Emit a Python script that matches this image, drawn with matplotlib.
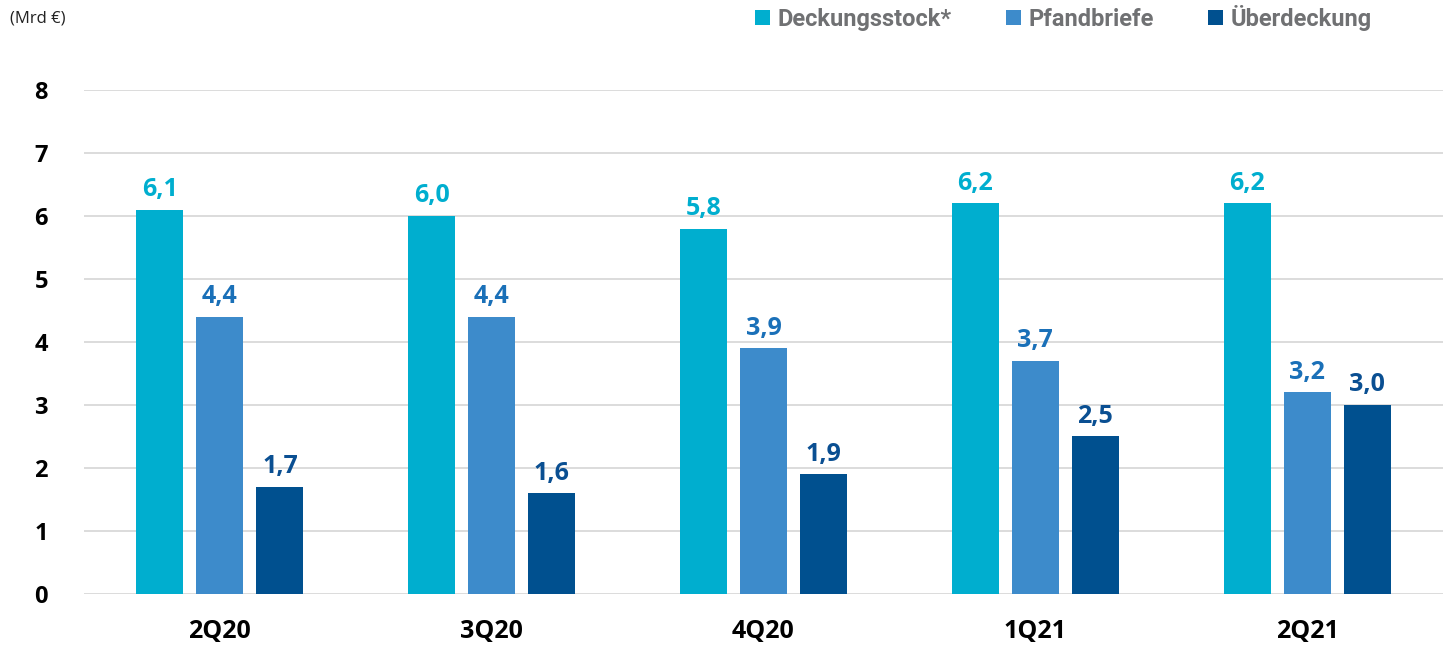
import numpy as np
import matplotlib
matplotlib.use('Agg')
import matplotlib.pyplot as plt
from matplotlib.patches import Patch

quarters = ['2Q20', '3Q20', '4Q20', '1Q21', '2Q21']
deckungsstock = [6.1, 6.0, 5.8, 6.2, 6.2]
pfandbriefe = [4.4, 4.4, 3.9, 3.7, 3.2]
ueberdeckung = [1.7, 1.6, 1.9, 2.5, 3.0]
series_names = ['Deckungsstock*', 'Pfandbriefe', 'Überdeckung']

bar_colors = ['#00AECF', '#3D8BCB', '#00508F']
label_colors = ['#00AECF', '#1A70B8', '#0A4F92']

plt.rcParams['font.family'] = ['Open Sans', 'DejaVu Sans']

fig = plt.figure(figsize=(14.43, 6.51), dpi=100)
ax = fig.add_axes([0.0582, 0.0876, 0.9418, 0.7742])

x = np.arange(len(quarters))
width = 0.173
offset = 0.221

for i, vals in enumerate([deckungsstock, pfandbriefe, ueberdeckung]):
  pos = x + (i - 1) * offset
  ax.bar(pos, vals, width, color=bar_colors[i], zorder=3)
  for px, v in zip(pos, vals):
    ax.text(px, v + 0.12, f'{v:.1f}'.replace('.', ','), ha='center', va='bottom',
            fontsize=18, fontweight='bold', color=label_colors[i])

ax.set_xlim(-0.5, 4.5)
ax.set_ylim(0, 8)
ax.set_yticks(range(0, 9))
ax.set_xticks(x)
ax.set_xticklabels(quarters)
ax.yaxis.grid(True, color='#D9D9D9', linewidth=1.3, zorder=0)
ax.set_axisbelow(True)
for s in ax.spines.values():
  s.set_visible(False)
ax.tick_params(axis='both', length=0, labelcolor='black')
ax.tick_params(axis='y', pad=26, labelsize=17)
ax.tick_params(axis='x', pad=18, labelsize=18)
for lbl in ax.get_xticklabels() + ax.get_yticklabels():
  lbl.set_fontweight('bold')

fig.text(0.007, 0.972, '(Mrd €)', fontsize=12, ha='left', va='center', color='#222222')

handles = [Patch(facecolor=c, edgecolor='none') for c in bar_colors]
fig.legend(handles, series_names, loc='center left', bbox_to_anchor=(0.517, 0.972),
           ncol=3, frameon=False, handlelength=0.6, handleheight=0.6,
           handletextpad=0.35, columnspacing=2.3, borderaxespad=0,
           prop={'family': 'Roboto', 'weight': 'bold', 'size': 17},
           labelcolor='#707173')

fig.savefig('out.png', dpi=100)
